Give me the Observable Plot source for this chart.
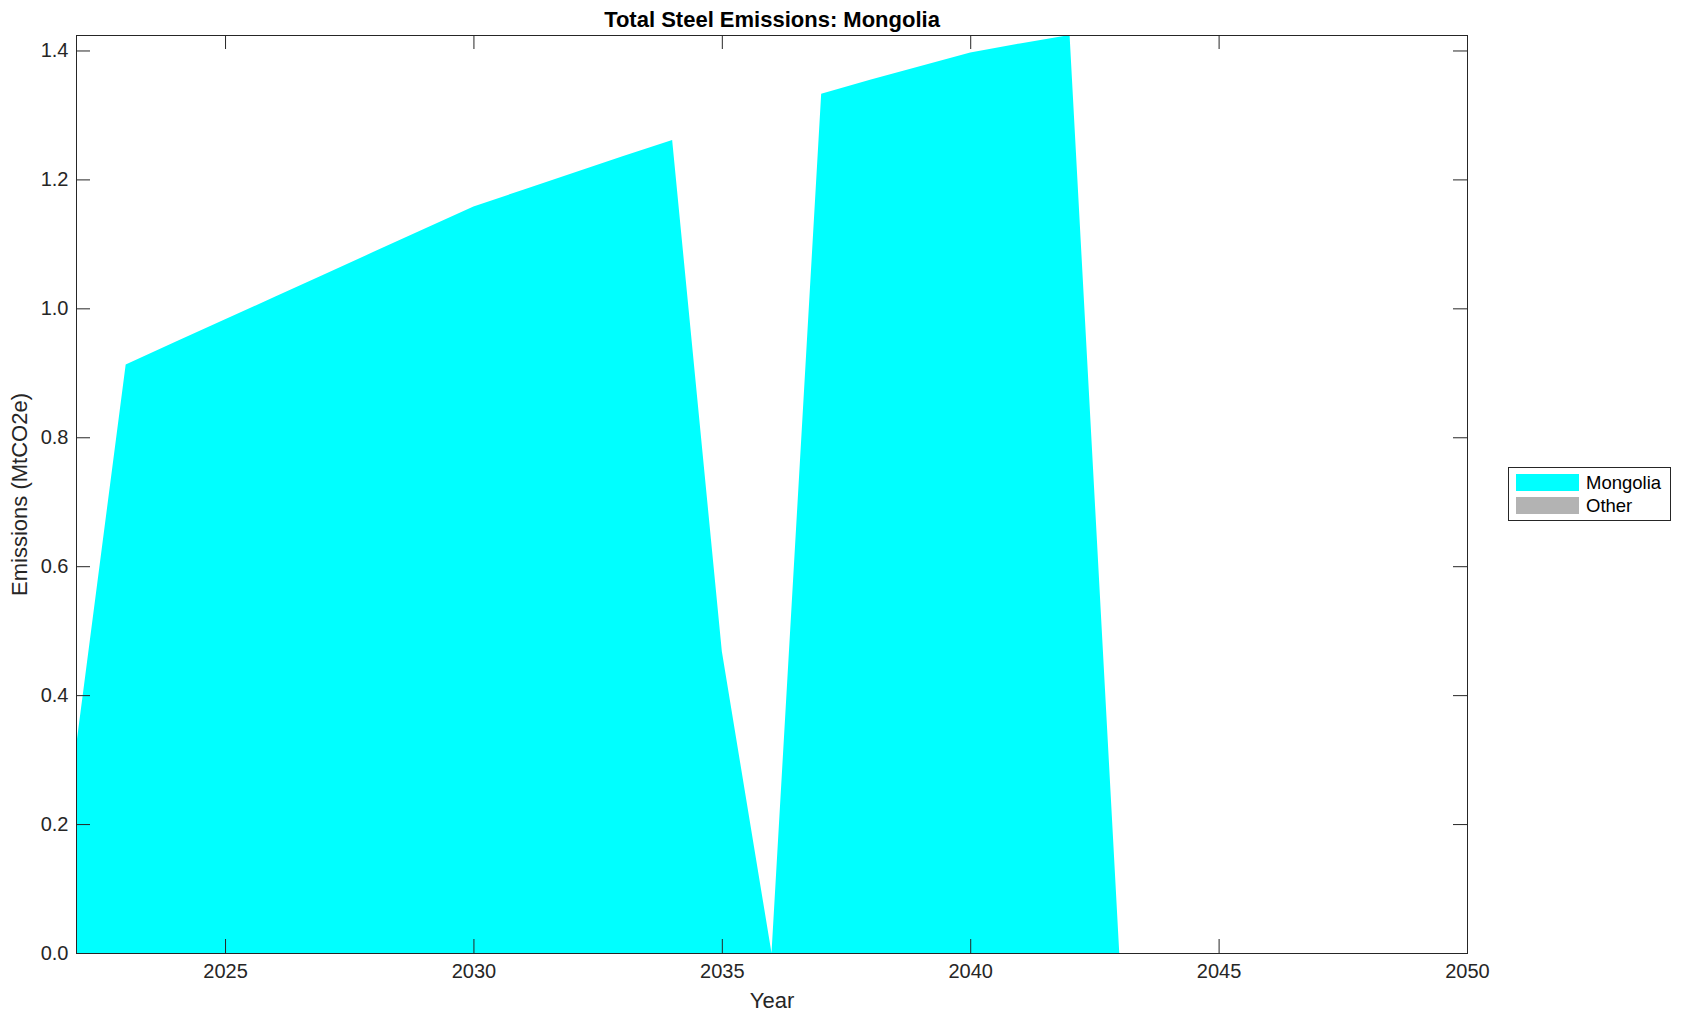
<!DOCTYPE html>
<html>
<head>
<meta charset="utf-8">
<script src="https://cdn.jsdelivr.net/npm/d3@7"></script>
<script src="https://cdn.jsdelivr.net/npm/@observablehq/plot@0.6"></script>
<style>
  html, body { margin: 0; padding: 0; background: #ffffff; }
  #wrap { position: relative; width: 1683px; height: 1021px; font-family: "Liberation Sans", Helvetica, Arial, sans-serif; }
  #legend { position: absolute; left: 1508px; top: 467px; width: 163px; height: 54px; border: 1px solid #262626; background: #fff; box-sizing: border-box; }
  .item { position: absolute; left: 7px; height: 17px; display: flex; align-items: center; }
  .sw { width: 63px; height: 17px; margin-right: 7px; }
  .lab { font-size: 18.5px; color: #000; line-height: 17px; }
</style>
</head>
<body>
<div id="wrap"><div id="chart"></div><div id="legend"></div></div>
<script>
// ---- data ----
const years = [2022, 2023, 2024, 2025, 2026, 2027, 2028, 2029, 2030, 2031, 2032, 2033, 2034, 2035, 2036,
               2037, 2038, 2039, 2040, 2041, 2042, 2043, 2044, 2045, 2046, 2047, 2048, 2049, 2050];
const mongolia = [0.32, 0.913, 0.948, 0.983, 1.018, 1.053, 1.088, 1.123, 1.158, 1.184, 1.210, 1.236, 1.261, 0.468, 0,
                  1.333, 1.355, 1.376, 1.397, 1.411, 1.424, 0, 0, 0, 0, 0, 0, 0, 0];
const other = [0, 0, 0, 0, 0, 0, 0, 0, 0, 0, 0, 0, 0, 0, 0,
               0, 0, 0, 0, 0, 0, 0, 0, 0, 0, 0, 0, 0, 0];
const seriesNames = ["Mongolia", "Other"];
const seriesColors = ["#00ffff", "#b3b3b3"];
const xTicks = [2025, 2030, 2035, 2040, 2045, 2050];
const yTicks = [0, 0.2, 0.4, 0.6, 0.8, 1.0, 1.2, 1.4];
const titleText = "Total Steel Emissions: Mongolia";
const xLabel = "Year";
const yLabel = "Emissions (MtCO2e)";

// ---- build table ----
const rows = [];
years.forEach((yr, i) => {
  rows.push({year: yr, series: "Mongolia", value: mongolia[i]});
  rows.push({year: yr, series: "Other", value: other[i]});
});
const yMax = d3.max(years.map((_, i) => mongolia[i] + other[i]));

const W = 1683, H = 1021;
const mL = 76, mR = 216, mT = 35, mB = 68;
const frameW = W - mL - mR, frameH = H - mT - mB;
const tickLen = 14;
const ink = "#262626";

const chart = Plot.plot({
  width: W, height: H,
  marginLeft: mL, marginRight: mR, marginTop: mT, marginBottom: mB,
  style: {fontFamily: '"Liberation Sans", Helvetica, Arial, sans-serif', fontSize: "20px", color: ink, background: "#fff", overflow: "visible"},
  x: {domain: [2022, 2050]},
  y: {domain: [0, yMax]},
  color: {domain: seriesNames, range: seriesColors},
  marks: [
    Plot.areaY(rows, {x: "year", y: "value", z: "series", fill: "series", order: seriesNames}),
    Plot.frame({stroke: ink, strokeWidth: 1}),
    Plot.tickX(xTicks, {x: d => d, stroke: ink, insetTop: frameH - tickLen}),
    Plot.tickX(xTicks, {x: d => d, stroke: ink, insetBottom: frameH - tickLen}),
    Plot.tickY(yTicks, {y: d => d, stroke: ink, insetRight: frameW - tickLen}),
    Plot.tickY(yTicks, {y: d => d, stroke: ink, insetLeft: frameW - tickLen}),
    Plot.axisX({ticks: xTicks, tickSize: 0, tickPadding: 10, tickFormat: d => String(d), label: null, fontSize: 20}),
    Plot.axisY({ticks: yTicks, tickSize: 0, tickPadding: 8, tickFormat: d3.format(".1f"), label: null, fontSize: 20}),
    Plot.text([titleText], {frameAnchor: "top", dy: -16, fontWeight: "bold", fontSize: 22, fill: "#000", lineAnchor: "middle", textAnchor: "middle"}),
    Plot.text([xLabel], {frameAnchor: "bottom", dy: 47, fontSize: 22, fill: ink, lineAnchor: "middle", textAnchor: "middle"}),
    Plot.text([yLabel], {frameAnchor: "left", dx: -(mL - 19), rotate: -90, fontSize: 22, fill: ink, lineAnchor: "middle", textAnchor: "middle"})
  ]
});
document.getElementById("chart").appendChild(chart);

// ---- legend ----
const legend = document.getElementById("legend");
seriesNames.forEach((name, i) => {
  const it = document.createElement("div");
  it.className = "item";
  it.style.top = (6 + i * 23) + "px";
  const sw = document.createElement("div");
  sw.className = "sw";
  sw.style.background = seriesColors[i];
  const lab = document.createElement("span");
  lab.className = "lab";
  lab.textContent = name;
  it.appendChild(sw); it.appendChild(lab);
  legend.appendChild(it);
});
</script>
</body>
</html>
